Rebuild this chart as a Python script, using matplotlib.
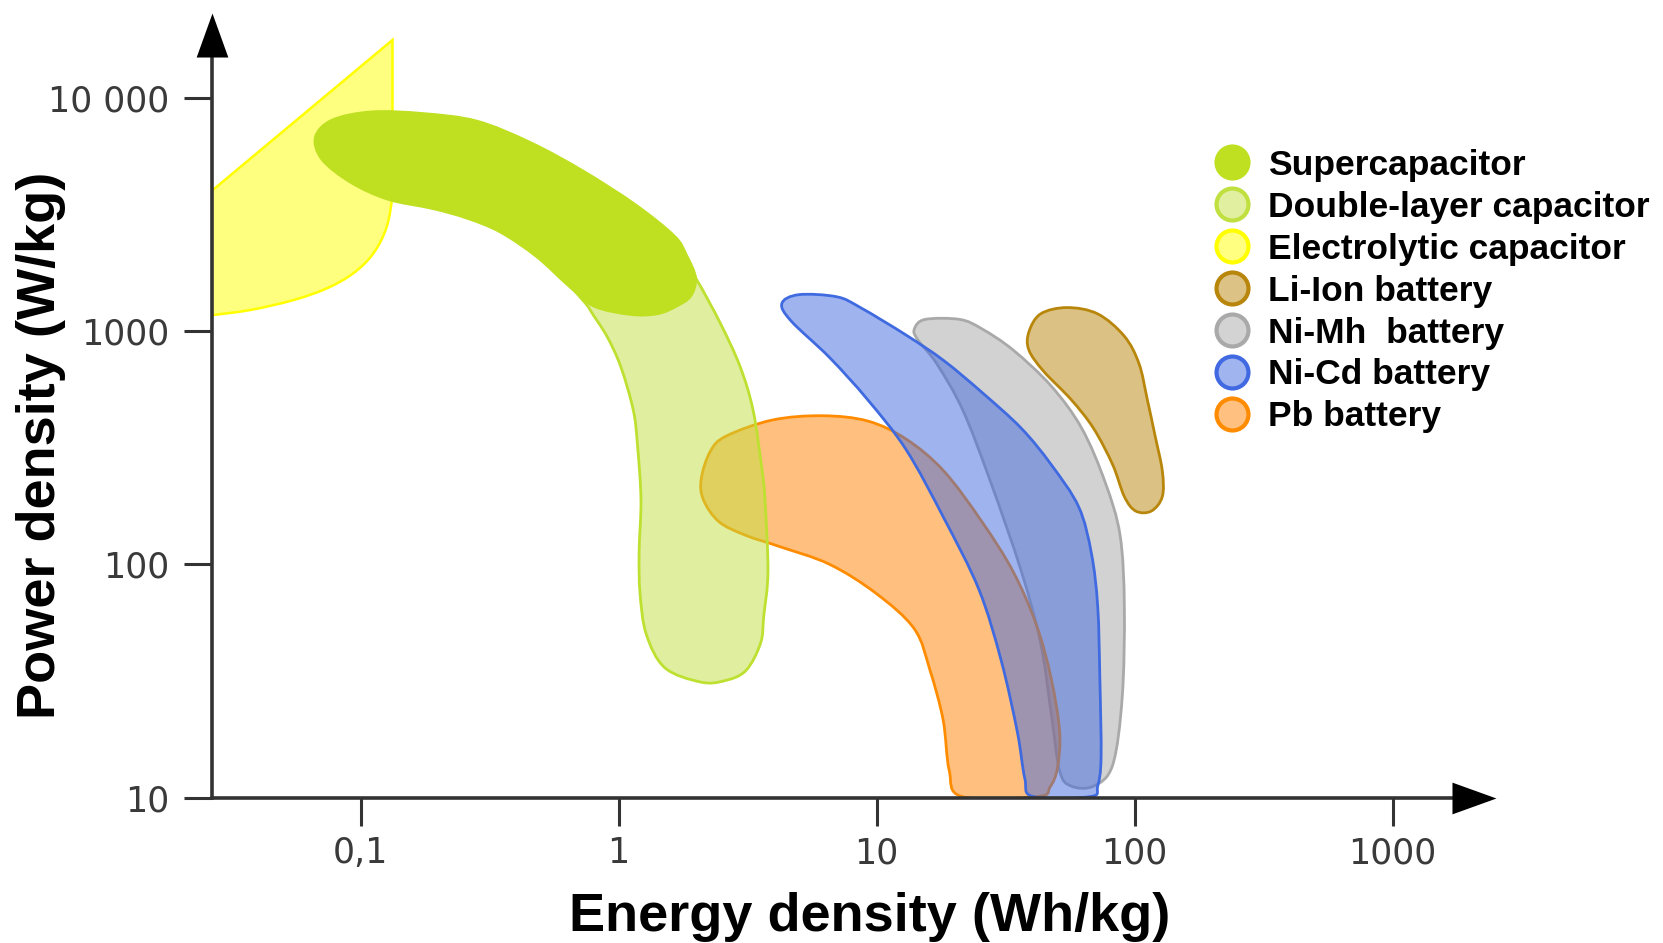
import numpy as np
import matplotlib
matplotlib.use("Agg")
import matplotlib.pyplot as plt
from matplotlib.path import Path
from matplotlib.patches import PathPatch
from matplotlib.ticker import NullLocator

# outlines, energy in Wh/kg, power in W/kg
# electrolytic: corner on the axis, tip, corner, then the curved lower edge
elec_energy = [0.0253, 0.1328, 0.1328, 0.1262, 0.112, 0.0936, 0.0739, 0.0549, 0.0373, 0.0253]
elec_power = [3820, 17650, 3900, 2800, 2150, 1766, 1522, 1356, 1229, 1160]

super_energy = [0.066, 0.077, 0.110, 0.176, 0.283, 0.455, 0.73, 1.17, 1.66, 1.85, 2.01, 1.92,
                1.68, 1.42, 1.12, 0.80, 0.633, 0.477, 0.346, 0.258, 0.190, 0.127, 0.091, 0.070]
super_power = [6800, 8100, 8800, 8650, 8030, 6510, 4910, 3510, 2570, 2125, 1690, 1400,
               1260, 1170, 1160, 1260, 1550, 2060, 2620, 3000, 3300, 3620, 4280, 5400]

dl_energy = [0.664, 1.17, 1.79, 2.01, 2.48, 2.96, 3.32, 3.58, 3.69, 3.79, 3.65, 3.55,
             3.11, 2.55, 2.07, 1.51, 1.28, 1.21, 1.2, 1.22, 1.183, 1.14, 1.02, 0.90, 0.77]
dl_power = [1690, 1910, 1950, 1650, 1076, 700, 456, 262, 189, 93, 60, 46,
            35, 31.6, 31.3, 36, 50, 75, 113, 189, 323, 456, 700, 949, 1245]

pb_energy = [2.09, 2.27, 2.62, 3.94, 6.14, 9.23, 13.0, 18.2, 25.6, 33.8, 41.6, 47.5, 51.2, 50.2,
             47.0, 42.0, 21.4, 19.1, 18.1, 16.1, 14.0, 9.95, 6.56, 4.21, 3.11, 2.45, 2.13]
pb_power = [233, 306, 355, 415, 433, 411, 344, 251, 152, 93, 55, 32.3, 19.1, 13.4,
            11.1, 10.1, 10.1, 13.1, 21.5, 35.1, 52.8, 75, 100, 119, 133, 152, 189]

nicd_energy = [4.29, 4.99, 7.01, 8.64, 13.0, 18.2, 25.6, 36.4, 47.5, 60.7, 68.0, 71.9, 73.3,
               74.1, 71.9, 67.4, 40.4, 37.5, 35.1, 30.4, 24.9, 18.2, 13.0, 9.23, 6.56, 4.67]
nicd_power = [1310, 1430, 1400, 1260, 960, 746, 545, 382, 267, 176, 111, 66, 32.3,
              14.9, 11.2, 10.1, 10.1, 12.1, 19.1, 38.6, 78, 158, 310, 507, 770, 1100]

nimh_energy = [14.0, 15.4, 21.0, 25.6, 33.8, 47.5, 62.4, 76.9, 87.8, 91.2, 89.5,
               82.2, 69.3, 56.8, 51.2, 47.5, 43.2, 36.4, 27.7, 21.6, 17.1, 14.4]
nimh_power = [1020, 1120, 1120, 1020, 828, 580, 382, 224, 133, 66, 27,
              13.8, 11.2, 11.2, 13.0, 22.9, 46, 93, 224, 456, 723, 920]

liion_energy = [38.9, 43.2, 54.7, 71.9, 91.2, 104, 112, 120, 128, 128, 116, 101,
                91.2, 82.2, 69.3, 56.8, 44.4, 38.9]
liion_power = [989, 1183, 1259, 1183, 949, 723, 507, 355, 251, 195, 169, 169,
               195, 267, 382, 507, 671, 828]

x_ticks = [0.1, 1, 10, 100, 1000]
x_labels = ["0,1", "1", "10", "100", "1000"]
y_ticks = [10, 100, 1000, 10000]
y_labels = ["10", "100", "1000", "10 000"]

legend_labels = ["Supercapacitor", "Double-layer capacitor", "Electrolytic capacitor",
                 "Li-Ion battery", "Ni-Mh  battery", "Ni-Cd battery", "Pb battery"]
legend_face = ["#BEE021", "#E0F0A0", "#FFFF80", "#DCC385", "#D3D3D3", "#A0B4F0", "#FFC080"]
legend_edge = ["#BEE021", "#C0E040", "#FFFF00", "#B8860B", "#A9A9A9", "#4169E1", "#FF8C00"]


def curve_segments(ext):
    # Catmull-Rom through ext[1:-1], ext[0] and ext[-1] only steer the ends
    verts, codes = [], []
    for i in range(1, len(ext) - 2):
        p0, p1, p2, p3 = ext[i - 1], ext[i], ext[i + 1], ext[i + 2]
        verts += [p1 + (p2 - p0) / 6, p2 - (p3 - p1) / 6, p2]
        codes += [Path.CURVE4] * 3
    return verts, codes


def smooth_path(energy, power):
    # closed smooth outline, built in log space
    pts = np.column_stack([np.log10(energy), np.log10(power)])
    ext = np.vstack([pts[-1], pts, pts[:2]])
    verts, codes = curve_segments(ext)
    verts = [pts[0]] + verts + [pts[0]]
    codes = [Path.MOVETO] + codes + [Path.CLOSEPOLY]
    return Path(10 ** np.array(verts), codes)


def elec_path(energy, power):
    # straight top edges, smooth lower edge
    pts = np.column_stack([np.log10(energy), np.log10(power)])
    q = pts[2:]
    start = q[0] + np.array([0.0, q[0, 1] - q[1, 1]])
    end = 2 * q[-1] - q[-2]
    verts, codes = curve_segments(np.vstack([start, q, end]))
    verts = [pts[0], pts[1], pts[2]] + verts + [pts[0]]
    codes = [Path.MOVETO, Path.LINETO, Path.LINETO] + codes + [Path.CLOSEPOLY]
    return Path(10 ** np.array(verts), codes)


def add_shape(ax, path, face, edge, lw=2.0):
    ax.add_patch(PathPatch(path, facecolor=face, edgecolor=edge, linewidth=lw,
                           transform=ax.transData))


def main():
    fig = plt.figure(figsize=(16.63, 9.43), dpi=100)
    ax = fig.add_axes([0.1276, 0.1542, 0.7717, 0.8323])
    ax.set_xscale("log")
    ax.set_yscale("log")

    add_shape(ax, smooth_path(nimh_energy, nimh_power), (0.655, 0.655, 0.655, 0.5), "#A9A9A9")
    add_shape(ax, smooth_path(pb_energy, pb_power), (1.0, 0.51, 0.0, 0.5), "#FF8C00")
    add_shape(ax, smooth_path(nicd_energy, nicd_power), (0.255, 0.41, 0.88, 0.5), "#3F6AE0")
    add_shape(ax, smooth_path(dl_energy, dl_power), (0.753, 0.878, 0.251, 0.5), "#BEE030")
    add_shape(ax, smooth_path(liion_energy, liion_power), (0.722, 0.525, 0.043, 0.5), "#B8860B")
    add_shape(ax, elec_path(elec_energy, elec_power), (1.0, 1.0, 0.0, 0.5), "#FFFF00", lw=1.8)
    add_shape(ax, smooth_path(super_energy, super_power), "#BEE021", "none", lw=0)

    ax.set_xlim(0.02657, 2505)
    ax.set_ylim(10, 23100)

    for side in ("top", "right"):
        ax.spines[side].set_visible(False)
    for side in ("left", "bottom"):
        ax.spines[side].set_color("#333333")
        ax.spines[side].set_linewidth(2.6)
        ax.spines[side].set_zorder(5)
    ax.spines["left"].set_bounds(10, 10 ** 4.27)
    ax.spines["bottom"].set_bounds(0.02657, 10 ** 3.31)

    ax.set_xticks(x_ticks, x_labels)
    ax.set_yticks(y_ticks, y_labels)
    ax.xaxis.set_minor_locator(NullLocator())
    ax.yaxis.set_minor_locator(NullLocator())
    ax.tick_params(axis="both", direction="out", length=20, width=2.2,
                   color="#333333", labelcolor="#3a3a3a", labelsize=25)
    ax.tick_params(axis="y", pad=11)
    ax.tick_params(axis="x", pad=8)

    # arrow heads on the axes
    up = [(-0.36, -0.5), (0.36, -0.5), (0.0, 0.5)]
    right = [(-0.5, -0.36), (-0.5, 0.36), (0.5, 0.0)]
    ax.plot([0], [0.972], marker=up, ms=31.7, color="black", mew=0,
            transform=ax.transAxes, clip_on=False, zorder=6)
    ax.plot([0.983], [0], marker=right, ms=31.7, color="black", mew=0,
            transform=ax.transAxes, clip_on=False, zorder=6)

    fig.text(0.0247, 0.5276, "Power density (W/kg)", rotation=90, ha="center", va="center",
             fontsize=39, fontweight="bold", family="Liberation Sans")
    fig.text(0.523, 0.0127, "Energy density (Wh/kg)", ha="center", va="baseline",
             fontsize=39, fontweight="bold", family="Liberation Sans")

    # legend drawn by hand
    y0, dy = 0.8279, 0.04443
    for i, label in enumerate(legend_labels):
        y = y0 - i * dy
        ax.plot([0.7408], [y], "o", ms=23, mfc=legend_face[i], mec=legend_edge[i], mew=3,
                transform=fig.transFigure, clip_on=False)
        fig.text(0.7625, y - 0.01345, label, ha="left", va="baseline",
                 fontsize=25.5, fontweight="bold", family="Liberation Sans")

    fig.savefig("out.png", dpi=100, facecolor="white")


if __name__ == "__main__":
    main()
